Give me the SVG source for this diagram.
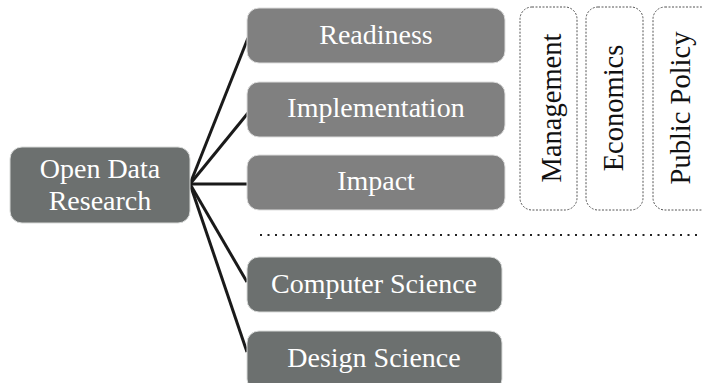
<svg xmlns="http://www.w3.org/2000/svg" width="702" height="383" viewBox="0 0 702 383">
<style>
.lbl{font-family:"Liberation Serif","Times New Roman",serif;font-size:28px;fill:#ffffff;text-anchor:middle}
.dk{fill:#6c706f;stroke:#d8dad9;stroke-width:1}
.lt{fill:#808080;stroke:#dddddd;stroke-width:1}
.disc{fill:#ffffff;stroke:#555555;stroke-width:1;stroke-dasharray:2 1.5}
.vt{font-family:"Liberation Serif","Times New Roman",serif;font-size:28.5px;fill:#111111;text-anchor:middle}
.con{stroke:#1a1a1a;stroke-width:3;fill:none}
</style>
<g id="connectors">
<line class="con" x1="190" y1="184" x2="248" y2="38"/>
<line class="con" x1="190" y1="184" x2="248" y2="113"/>
<line class="con" x1="190" y1="184" x2="248" y2="184"/>
<line class="con" x1="190" y1="184" x2="247" y2="282"/>
<line class="con" x1="190" y1="184" x2="247" y2="352"/>
</g>
<g id="separator">
<line x1="260" y1="235" x2="702" y2="235" stroke="#222" stroke-width="2" stroke-dasharray="2 5.5"/>
</g>
<g id="open-data-research">
<rect class="dk" x="10" y="147" width="180" height="76" rx="12"/>
<text class="lbl" x="100" y="178">Open Data</text>
<text class="lbl" x="100" y="210">Research</text>
</g>
<g id="readiness">
<rect class="lt" x="247" y="8" width="258" height="55" rx="12"/>
<text class="lbl" x="376" y="44">Readiness</text>
</g>
<g id="implementation">
<rect class="lt" x="247" y="82" width="258" height="55" rx="12"/>
<text class="lbl" x="376" y="117">Implementation</text>
</g>
<g id="impact">
<rect class="lt" x="247" y="155" width="258" height="55" rx="12"/>
<text class="lbl" x="376" y="190">Impact</text>
</g>
<g id="computer-science">
<rect class="dk" x="247" y="257" width="255" height="55" rx="12"/>
<text class="lbl" x="374" y="293">Computer Science</text>
</g>
<g id="design-science">
<rect class="dk" x="247" y="331" width="255" height="60" rx="12"/>
<text class="lbl" x="374" y="367">Design Science</text>
</g>
<g id="management">
<rect class="disc" x="520" y="7" width="57" height="203" rx="12"/>
<text class="vt" transform="translate(561,108) rotate(-90)">Management</text>
</g>
<g id="economics">
<rect class="disc" x="586" y="7" width="57" height="203" rx="12"/>
<text class="vt" transform="translate(623,108) rotate(-90)">Economics</text>
</g>
<g id="public-policy">
<rect class="disc" x="653" y="7" width="60" height="203" rx="12"/>
<text class="vt" transform="translate(690,108) rotate(-90)">Public Policy</text>
</g>
</svg>
